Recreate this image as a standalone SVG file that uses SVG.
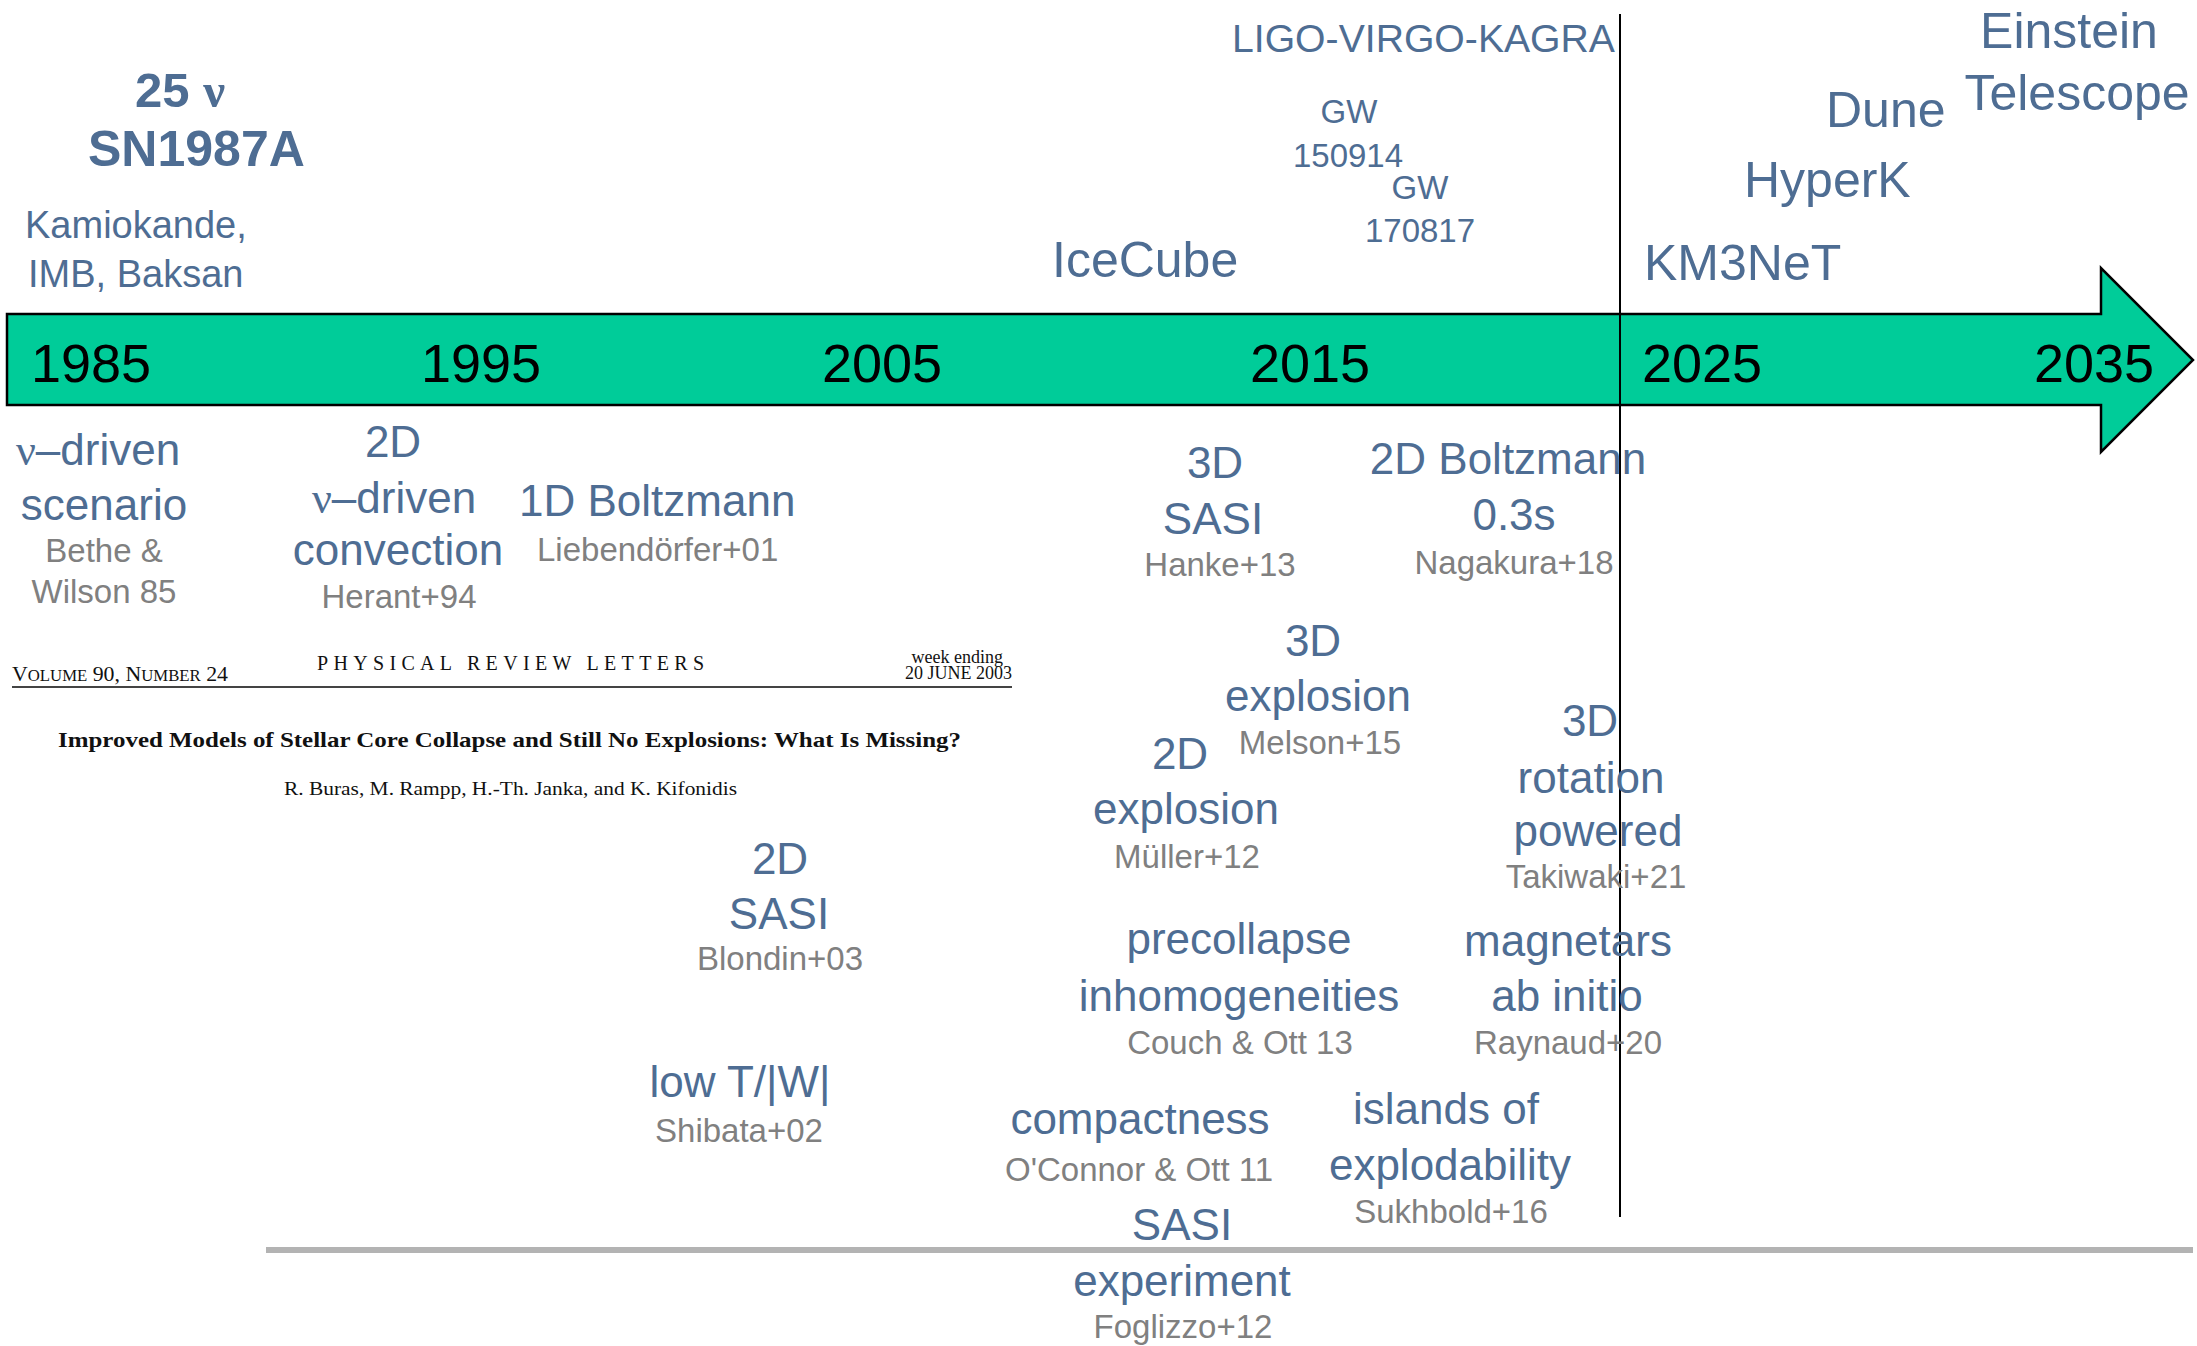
<svg xmlns="http://www.w3.org/2000/svg" width="2197" height="1346" viewBox="0 0 2197 1346">
<style>
text{font-family:"Liberation Sans",Arial,sans-serif}
.b{fill:#4E6D93;font-size:44px}
.bl{fill:#4E6D93;font-size:50px}
.bm{fill:#4E6D93;font-size:38px}
.bs{fill:#4E6D93;font-size:33px}
.g{fill:#808080;font-size:33px}
.y{fill:#000;font-size:54px}
.c{text-anchor:middle}
.nu{font-family:"Liberation Serif","DejaVu Serif",serif}
.s{font-family:"Liberation Serif","Times New Roman",serif;fill:#111}
</style>
<rect width="2197" height="1346" fill="#fff"/>
<g id="axis">
<path d="M7,314 H2101 V268 L2193,360 L2101,452 V405 H7 Z" fill="#00CC99" stroke="#000" stroke-width="2.5"/>
<line x1="266" y1="1250" x2="2193" y2="1250" stroke="#B3B3B3" stroke-width="6"/>
</g>
<g id="years">
<text class="y" x="31" y="382">1985</text>
<text class="y" x="421" y="382">1995</text>
<text class="y" x="822" y="382">2005</text>
<text class="y" x="1250" y="382">2015</text>
<text class="y" x="1642" y="382">2025</text>
<text class="y" x="2034" y="382">2035</text>
</g>
<g id="connectors">
<line x1="1620" y1="14" x2="1620" y2="1217" stroke="#000" stroke-width="2"/>
</g>
<g id="sn1987a">
<text x="135" y="107" fill="#4E6D93" font-size="49" font-weight="bold">25 <tspan class="nu">ν</tspan></text>
<text x="88" y="166" fill="#4E6D93" font-size="50" font-weight="bold">SN1987A</text>
<text class="bm" x="25" y="238">Kamiokande,</text>
<text class="bm" x="28" y="287">IMB, Baksan</text>
</g>
<g id="ligo"><text class="bm" x="1232" y="52" textLength="383" lengthAdjust="spacingAndGlyphs">LIGO-VIRGO-KAGRA</text></g>
<g id="gw150914"><text class="bs c" x="1349" y="123">GW</text><text class="bs c" x="1348" y="167">150914</text></g>
<g id="gw170817"><text class="bs c" x="1420" y="199">GW</text><text class="bs c" x="1420" y="242">170817</text></g>
<g id="icecube"><text class="bl" x="1052" y="277">IceCube</text></g>
<g id="km3net"><text class="bl" x="1644" y="280">KM3NeT</text></g>
<g id="hyperk"><text class="bl" x="1744" y="197">HyperK</text></g>
<g id="dune"><text class="bl" x="1826" y="127">Dune</text></g>
<g id="einstein"><text class="bl c" x="2069" y="48">Einstein</text><text class="bl c" x="2077" y="110">Telescope</text></g>
<g id="vdriven">
<text class="b c" x="98" y="465"><tspan class="nu">ν</tspan>–driven</text>
<text class="b c" x="104" y="520">scenario</text>
<text class="g c" x="104" y="562">Bethe &amp;</text>
<text class="g c" x="104" y="603">Wilson 85</text>
</g>
<g id="convection">
<text class="b c" x="393" y="457">2D</text>
<text class="b c" x="394" y="513"><tspan class="nu">ν</tspan>–driven</text>
<text class="b c" x="398" y="565">convection</text>
<text class="g c" x="399" y="608">Herant+94</text>
</g>
<g id="boltz1d">
<text class="b" x="519" y="516">1D Boltzmann</text>
<text class="g" x="537" y="561">Liebendörfer+01</text>
</g>
<g id="prl">
<text class="s" x="12" y="681" font-size="21.5" textLength="216" lengthAdjust="spacingAndGlyphs">V<tspan font-size="16.5">OLUME</tspan> 90, N<tspan font-size="16.5">UMBER</tspan> 24</text>
<text class="s" x="317" y="670" font-size="20" textLength="387" lengthAdjust="spacing">PHYSICAL REVIEW LETTERS</text>
<text class="s" x="1003" y="663" font-size="18" text-anchor="end">week ending</text>
<text class="s" x="1012" y="679" font-size="18" text-anchor="end">20 JUNE 2003</text>
<line x1="12" y1="687" x2="1012" y2="687" stroke="#444" stroke-width="2"/>
<text class="s" x="58" y="747" font-size="22" font-weight="bold" textLength="903" lengthAdjust="spacingAndGlyphs">Improved Models of Stellar Core Collapse and Still No Explosions: What Is Missing?</text>
<text class="s" x="284" y="795" font-size="18" textLength="453" lengthAdjust="spacingAndGlyphs">R. Buras, M. Rampp, H.-Th. Janka, and K. Kifonidis</text>
</g>
<g id="sasi3d">
<text class="b c" x="1215" y="478">3D</text>
<text class="b c" x="1213" y="534">SASI</text>
<text class="g c" x="1220" y="576">Hanke+13</text>
</g>
<g id="boltz2d">
<text class="b c" x="1508" y="474">2D Boltzmann</text>
<text class="b c" x="1514" y="530">0.3s</text>
<text class="g c" x="1514" y="574">Nagakura+18</text>
</g>
<g id="explosion3d">
<text class="b c" x="1313" y="656">3D</text>
<text class="b c" x="1318" y="711">explosion</text>
<text class="g c" x="1320" y="754">Melson+15</text>
</g>
<g id="explosion2d">
<text class="b c" x="1180" y="769">2D</text>
<text class="b c" x="1186" y="824">explosion</text>
<text class="g c" x="1187" y="868">Müller+12</text>
</g>
<g id="rotation3d">
<text class="b c" x="1590" y="736">3D</text>
<text class="b c" x="1591" y="793">rotation</text>
<text class="b c" x="1598" y="846">powered</text>
<text class="g c" x="1596" y="888">Takiwaki+21</text>
</g>
<g id="sasi2d">
<text class="b c" x="780" y="874">2D</text>
<text class="b c" x="779" y="929">SASI</text>
<text class="g c" x="780" y="970">Blondin+03</text>
</g>
<g id="precollapse">
<text class="b c" x="1239" y="954">precollapse</text>
<text class="b c" x="1239" y="1011">inhomogeneities</text>
<text class="g c" x="1240" y="1054">Couch &amp; Ott 13</text>
</g>
<g id="magnetars">
<text class="b c" x="1568" y="956">magnetars</text>
<text class="b c" x="1567" y="1011">ab initio</text>
<text class="g c" x="1568" y="1054">Raynaud+20</text>
</g>
<g id="lowtw">
<text class="b c" x="740" y="1097">low T/|W|</text>
<text class="g c" x="739" y="1142">Shibata+02</text>
</g>
<g id="compactness">
<text class="b c" x="1140" y="1134">compactness</text>
<text class="g c" x="1139" y="1181">O'Connor &amp; Ott 11</text>
</g>
<g id="islands">
<text class="b c" x="1446" y="1124">islands of</text>
<text class="b c" x="1450" y="1180">explodability</text>
<text class="g c" x="1451" y="1223">Sukhbold+16</text>
</g>
<g id="sasiexp">
<text class="b c" x="1182" y="1240">SASI</text>
<text class="b c" x="1182" y="1296">experiment</text>
<text class="g c" x="1183" y="1338">Foglizzo+12</text>
</g>
</svg>
